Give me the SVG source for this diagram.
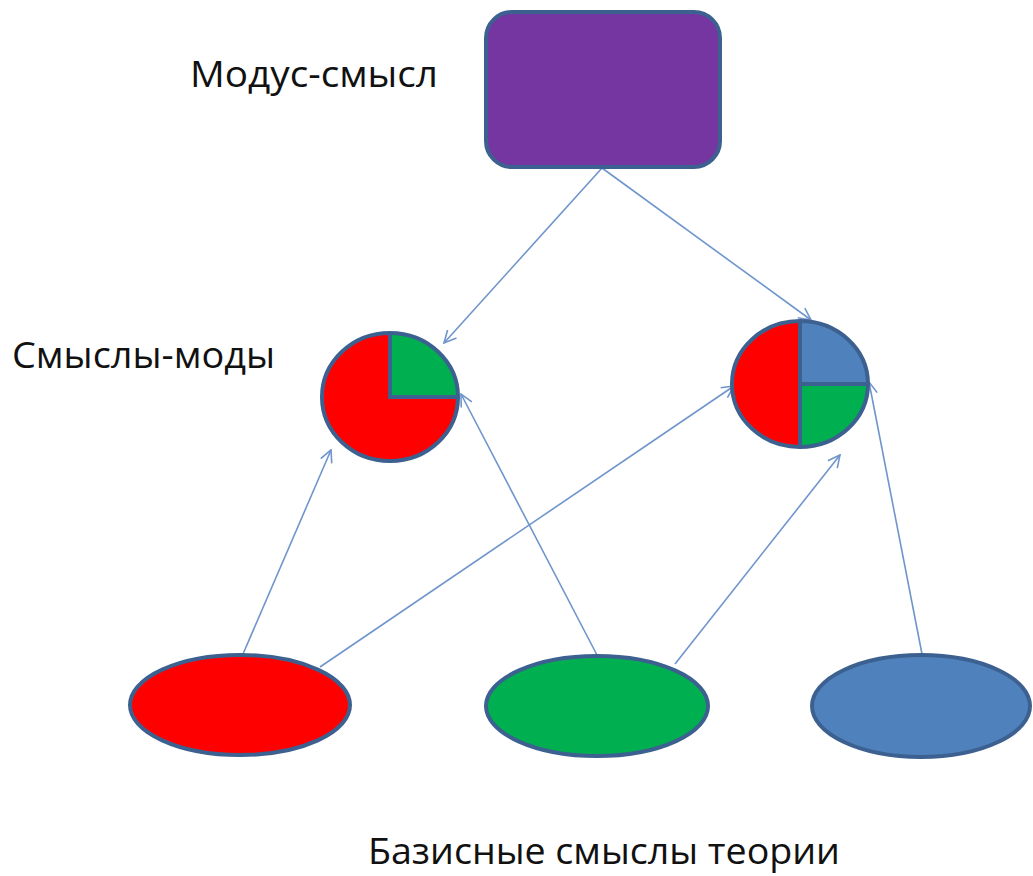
<svg xmlns="http://www.w3.org/2000/svg" width="1033" height="876" viewBox="0 0 1033 876">
<style>
.node{stroke:#3C6190;stroke-width:4}
.conn{stroke:#6F95CC;stroke-width:1.6;fill:none;marker-end:url(#arr)}
.lbl{font-family:"Open Sans","Liberation Sans",Arial,sans-serif;font-size:37px;fill:#111}
</style>
<defs>
<marker id="arr" viewBox="0 0 14 14" refX="13" refY="7" markerWidth="14" markerHeight="14" markerUnits="userSpaceOnUse" orient="auto">
<path d="M1,1 L13,7 L1,13" fill="none" stroke="#6F95CC" stroke-width="1.6"/>
</marker>
</defs>
<rect width="1033" height="876" fill="#fff"/>
<g id="connectors">
<line class="conn" x1="602" y1="168" x2="444" y2="343"/>
<line class="conn" x1="602" y1="168" x2="811" y2="320"/>
<line class="conn" x1="243" y1="654" x2="331" y2="450"/>
<line class="conn" x1="320" y1="667" x2="734" y2="386"/>
<line class="conn" x1="597" y1="655" x2="461" y2="394"/>
<line class="conn" x1="675" y1="664" x2="840" y2="455"/>
<line class="conn" x1="922" y1="654" x2="869" y2="382"/>
</g>
<g id="modus">
<rect class="node" x="486" y="12" width="234" height="155" rx="26" fill="#7636A1"/>
</g>
<g id="mode-left">
<path d="M390,397 L390,333 A68,64 0 1 0 458,397 Z" fill="#FF0000"/>
<path d="M390,397 L390,333 A68,64 0 0 1 458,397 Z" fill="#00B050"/>
<ellipse class="node" cx="390" cy="397" rx="68" ry="64" fill="none"/>
<path class="node" d="M390,333 L390,397 L458,397" fill="none"/>
</g>
<g id="mode-right">
<path d="M800,384 L800,321 A68,63 0 0 0 800,447 Z" fill="#FF0000"/>
<path d="M800,384 L800,321 A68,63 0 0 1 868,384 Z" fill="#4F81BD"/>
<path d="M800,384 L868,384 A68,63 0 0 1 800,447 Z" fill="#00B050"/>
<ellipse class="node" cx="800" cy="384" rx="68" ry="63" fill="none"/>
<path class="node" d="M800,321 L800,447 M800,384 L868,384" fill="none"/>
</g>
<g id="base-red">
<ellipse class="node" cx="240" cy="705" rx="110" ry="50" fill="#FF0000"/>
</g>
<g id="base-green">
<ellipse class="node" cx="597" cy="706" rx="111" ry="50" fill="#00B050"/>
</g>
<g id="base-blue">
<ellipse class="node" cx="921" cy="706" rx="109" ry="51" fill="#4F81BD"/>
</g>
<g id="labels">
<text class="lbl" x="190" y="87" textLength="248" lengthAdjust="spacingAndGlyphs">Модус-смысл</text>
<text class="lbl" x="12" y="368" textLength="263" lengthAdjust="spacingAndGlyphs">Смыслы-моды</text>
<text class="lbl" x="368" y="864" textLength="472" lengthAdjust="spacingAndGlyphs">Базисные смыслы теории</text>
</g>
</svg>
